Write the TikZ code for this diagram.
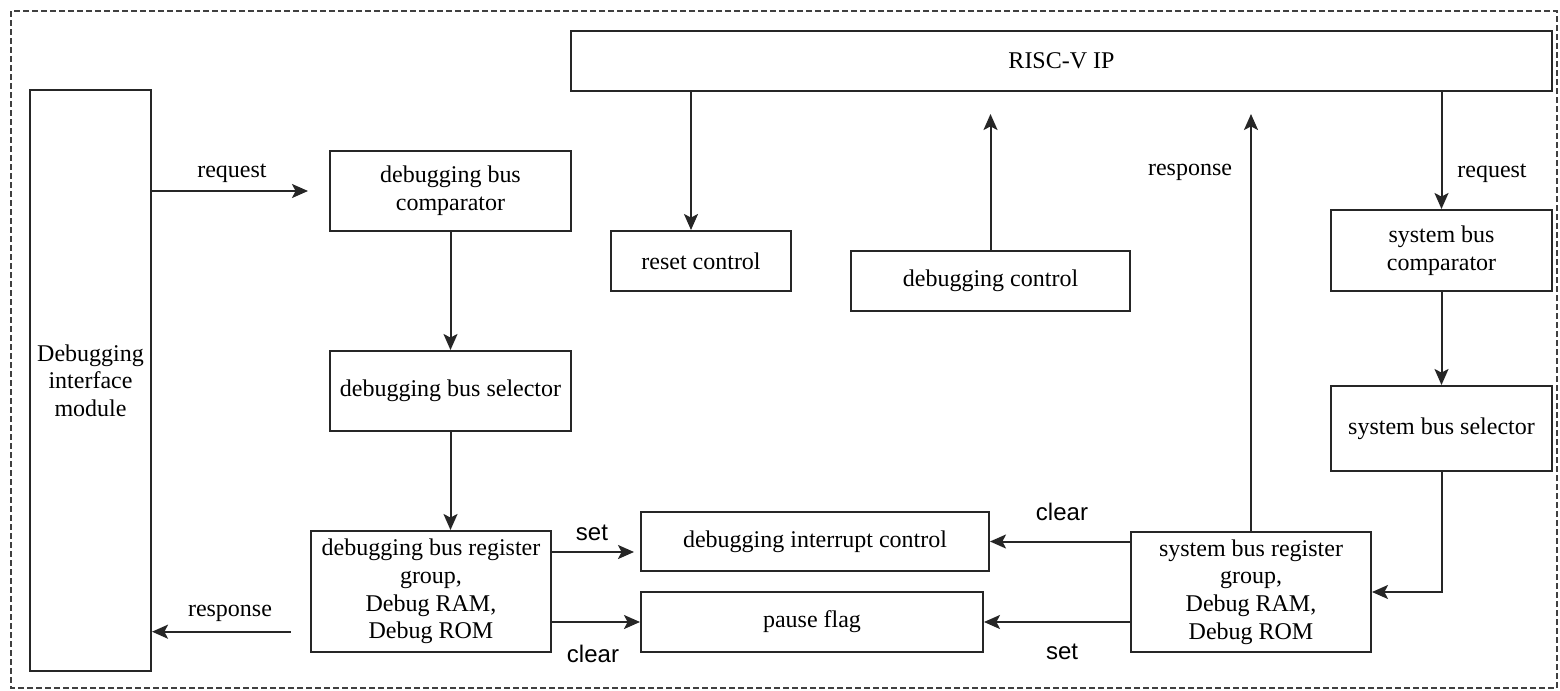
\documentclass[tikz,border=0pt]{standalone}
\usepackage{fontspec}
\setmainfont{Liberation Serif}
\setsansfont{Liberation Sans}
\usetikzlibrary{arrows.meta,calc}

\begin{document}
\begin{tikzpicture}[x=0.5pt,y=-0.5pt,
  box/.style={draw=black!85, line width=1pt, inner sep=0pt, align=center,
    font=\fontsize{12}{13.8}\selectfont\rmfamily, fill=white},
  lbl/.style={inner sep=0pt, font=\fontsize{12}{13.8}\selectfont\rmfamily},
  slbl/.style={inner sep=0pt, font=\fontsize{12}{13.8}\selectfont\sffamily},
  arr/.style={draw=black!85, line width=1pt,
    -{Stealth[length=8pt,width=7pt,inset=1.8pt]}},
  wire/.style={draw=black!85, line width=1pt}]

% canvas and dashed frame
\fill[white] (0,0) rectangle (1560,691);
\useasboundingbox (0,0) rectangle (1560,691);
\draw[black!75, line width=0.6pt, dash pattern=on 3pt off 1.5pt] (11,11) rectangle (1557,688);

% blocks
\node[box, minimum width=60.5pt, minimum height=290.5pt] (dim) at (90.5,380.5) {Debugging\\interface\\module};
\node[box, minimum width=120.5pt, minimum height=40pt] (dbc) at (450.5,191) {debugging bus\\comparator};
\node[box, minimum width=120.5pt, minimum height=40pt] (dbs) at (450.5,391) {debugging bus selector};
\node[box, minimum width=120pt, minimum height=60.5pt] (dbr) at (431,591.5) {debugging bus register\\group,\\Debug RAM,\\Debug ROM};
\node[box, minimum width=490.5pt, minimum height=30pt] (risc) at (1061.5,61) {RISC-V IP};
\node[box, minimum width=90pt, minimum height=30pt] (rc) at (701,261) {reset control};
\node[box, minimum width=139.5pt, minimum height=30pt] (dc) at (990.5,281) {debugging control};
\node[box, minimum width=110.5pt, minimum height=40.5pt] (sbc) at (1441.5,250.5) {system bus\\comparator};
\node[box, minimum width=110.5pt, minimum height=42.5pt] (sbs) at (1441.5,428.5) {system bus selector};
\node[box, minimum width=120pt, minimum height=60pt] (sbr) at (1251,592) {system bus register\\group,\\Debug RAM,\\Debug ROM};
\node[box, minimum width=174pt, minimum height=29.5pt] (dic) at (815,541.5) {debugging interrupt control};
\node[box, minimum width=171pt, minimum height=30pt] (pf) at (812,622) {pause flag};

% debug-side connectors
\draw[arr, shorten >=10.5pt] (dim.east |- dbc.west) -- (dbc.west);
\draw[arr] (dbc.south) -- (dbs.north);
\draw[arr] (dbs.south) -- (dbs.south |- dbr.north);
\draw[arr, shorten <=9.7pt] ([yshift=-20.1pt]dbr.west) coordinate (rsp) -- (rsp -| dim.east);
\draw[arr, shorten >=3pt] ([yshift=19.75pt]dbr.east) coordinate (st1) -- (st1 -| dic.west);
\draw[arr] (pf.west -| dbr.east) -- (pf.west);

% RISC-V side connectors
\draw[arr] ([xshift=-5pt]rc.north |- risc.south) -- ([xshift=-5pt]rc.north);
\draw[arr, shorten >=11pt] (dc.north) -- (dc.north |- risc.south);
\draw[arr, shorten >=11pt] (sbr.north) -- (sbr.north |- risc.south);
\draw[arr] (sbc.north |- risc.south) -- (sbc.north);
\draw[arr] (sbc.south) -- (sbs.north);
\draw[arr] (sbs.south) |- (sbr.east);
\draw[arr] (dic.east -| sbr.west) -- (dic.east);
\draw[arr] (pf.east -| sbr.west) -- (pf.east);

% connector labels
\node[lbl] (l1) at (232,173) {request};
\node[lbl] (l2) at (230,613) {response};
\node[slbl] (l3) at (592,533) {set};
\node[slbl] (l4) at (593,654) {clear};
\node[slbl] (l5) at (1062,512) {clear};
\node[slbl] (l6) at (1062,652) {set};
\node[lbl] (l7) at (1190,172) {response};
\node[lbl] (l8) at (1492,173) {request};
\end{tikzpicture}
\end{document}
